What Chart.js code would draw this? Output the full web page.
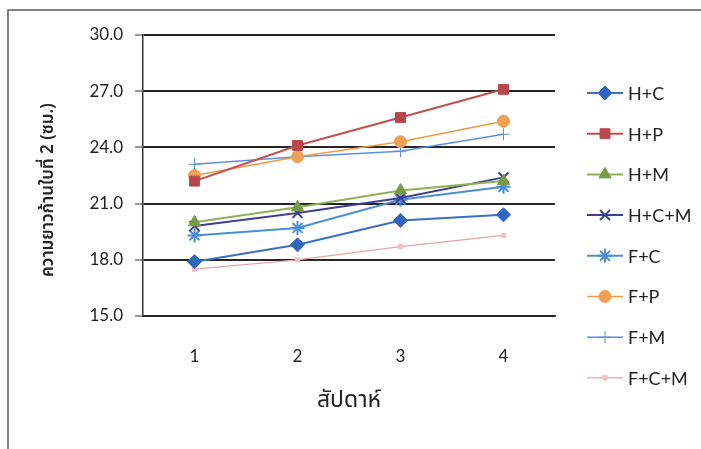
<!DOCTYPE html>
<html>
<head>
<meta charset="utf-8">
<title>ความยาวก้านใบที่ 2</title>
<style>
  html, body { margin: 0; padding: 0; background: #fff; }
  #wrap { width: 701px; height: 449px; position: relative; }
</style>
<script src="https://cdn.jsdelivr.net/npm/chart.js@4.4.1/dist/chart.umd.min.js"></script>
</head>
<body>
<div id="wrap"><canvas id="chart" width="701" height="449"></canvas></div>
<script>
const weeks = ["1", "2", "3", "4"];
const seriesNames = ["H+C", "H+P", "H+M", "H+C+M", "F+C", "F+P", "F+M", "F+C+M"];
const hC   = [17.9, 18.8, 20.1, 20.4];
const hP   = [22.2, 24.1, 25.6, 27.1];
const hM   = [20.0, 20.8, 21.7, 22.2];
const hCM  = [19.8, 20.5, 21.3, 22.4];
const fC   = [19.3, 19.7, 21.2, 21.9];
const fP   = [22.5, 23.5, 24.3, 25.4];
const fM   = [23.1, 23.5, 23.8, 24.7];
const fCM  = [17.5, 18.0, 18.7, 19.3];
const yTicks = [15, 18, 21, 24, 27, 30];
const yTitle = "ความยาวก้านใบที่ 2 (ซม.)";
const xTitle = "สัปดาห์";

const styles = [
  { color: "#3b6fc4", fill: "#2f66c0", point: "rectRot", radius: 7, width: 2 },
  { color: "#c0504d", fill: "#b8474b", point: "rect", radius: 7, width: 2 },
  { color: "#8db153", fill: "#779a45", point: "triangle", radius: 7, width: 2 },
  { color: "#3c4190", fill: "#3c4190", point: "crossRot", radius: 7, width: 2 },
  { color: "#4a8ed8", fill: "#4a8ed8", point: "star", radius: 7, width: 2 },
  { color: "#f29a45", fill: "#f0a055", point: "circle", radius: 6, width: 1.5 },
  { color: "#5b90e0", fill: "#5b90e0", point: "cross", radius: 6, width: 1.5 },
  { color: "#e8a2a8", fill: "#f0c0c4", point: "rect", radius: 3, width: 1.2 }
];
const values = [hC, hP, hM, hCM, fC, fP, fM, fCM];
const thinMarks = ["crossRot", "star", "cross"];

const datasets = seriesNames.map((name, i) => ({
  label: name,
  data: values[i],
  borderColor: styles[i].color,
  backgroundColor: styles[i].fill,
  borderWidth: styles[i].width,
  pointStyle: styles[i].point,
  pointRadius: styles[i].radius,
  pointBorderColor: thinMarks.includes(styles[i].point) ? styles[i].color : styles[i].fill,
  pointBorderWidth: styles[i].point === "crossRot" || styles[i].point === "star" ? 2 : 1,
  pointBackgroundColor: styles[i].fill,
  tension: 0
}));

// frame, rotated y title and right-hand legend (line + marker like a spreadsheet legend)
const decorPlugin = {
  id: "decor",
  beforeDraw(chart) {
    const ctx = chart.ctx;
    ctx.save();
    ctx.fillStyle = "#fff";
    ctx.fillRect(0, 0, chart.width, chart.height);
    ctx.strokeStyle = "#555";
    ctx.lineWidth = 1.5;
    ctx.beginPath();
    ctx.moveTo(8, chart.height + 2);
    ctx.lineTo(8, 10);
    ctx.lineTo(chart.width + 2, 10);
    ctx.stroke();
    ctx.restore();
  },
  afterDraw(chart) {
    const ctx = chart.ctx;
    ctx.save();
    ctx.translate(50, 277);
    ctx.rotate(-Math.PI / 2);
    ctx.fillStyle = "#222";
    ctx.font = "600 17px 'Noto Sans Thai', 'Noto Sans', 'DejaVu Sans', sans-serif";
    ctx.textAlign = "left";
    ctx.textBaseline = "middle";
    ctx.fillText(yTitle, 0, 0);
    ctx.restore();

    ctx.save();
    chart.data.datasets.forEach((ds, i) => {
      const y = 93 + i * 40.7;
      ctx.strokeStyle = ds.borderColor;
      ctx.lineWidth = ds.borderWidth;
      ctx.beginPath();
      ctx.moveTo(587, y);
      ctx.lineTo(623, y);
      ctx.stroke();
      ctx.fillStyle = ds.pointBackgroundColor;
      ctx.strokeStyle = ds.pointBorderColor;
      ctx.lineWidth = ds.pointBorderWidth;
      Chart.helpers.drawPoint(ctx, {
        pointStyle: ds.pointStyle,
        radius: ds.pointRadius,
        borderWidth: ds.pointBorderWidth,
        rotation: 0
      }, 605, y);
      ctx.fillStyle = "#222";
      ctx.font = "18px Lato, 'Liberation Sans', sans-serif";
      ctx.textBaseline = "middle";
      ctx.textAlign = "left";
      ctx.fillText(ds.label, 628, y + 1);
    });
    ctx.restore();
  }
};

new Chart(document.getElementById("chart"), {
  type: "line",
  data: { labels: weeks, datasets },
  plugins: [decorPlugin],
  options: {
    responsive: false,
    animation: false,
    layout: { padding: { left: 35, right: 146, top: 35, bottom: 0 } },
    plugins: {
      legend: { display: false },
      tooltip: { enabled: false }
    },
    scales: {
      x: {
        offset: true,
        afterFit(scale) { scale.height = 133; },
        grid: { display: false, drawTicks: false },
        border: { display: true, color: "#222", width: 1.5 },
        ticks: {
          padding: 30,
          color: "#222",
          font: { family: "Lato, 'Liberation Sans', sans-serif", size: 17 }
        },
        title: {
          display: true,
          text: xTitle,
          color: "#222",
          padding: { top: 0, bottom: 33 },
          font: { family: "'Noto Sans Thai', 'Noto Sans', 'DejaVu Sans', sans-serif", size: 23 }
        }
      },
      y: {
        min: 15,
        max: 30,
        afterFit(scale) { scale.width = 108; },
        afterBuildTicks(scale) { scale.ticks = yTicks.map(v => ({ value: v })); },
        grid: { color: "#262626", lineWidth: 2, tickLength: 8, tickColor: "#333", tickWidth: 1 },
        border: { display: true, color: "#333", width: 1.5 },
        ticks: {
          padding: 12,
          color: "#222",
          font: { family: "Lato, 'Liberation Sans', sans-serif", size: 17 },
          callback: v => Number(v).toFixed(1)
        },
        title: { display: false }
      }
    }
  }
});
</script>
</body>
</html>
